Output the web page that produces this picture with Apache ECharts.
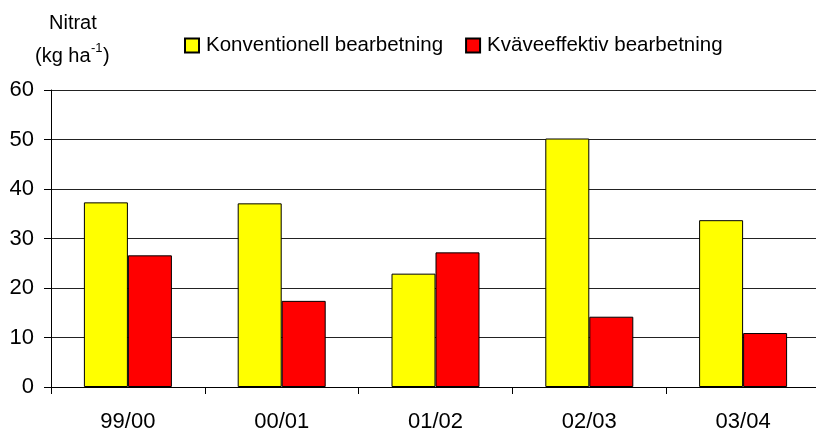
<!DOCTYPE html>
<html>
<head>
<meta charset="utf-8">
<script src="https://cdn.jsdelivr.net/npm/echarts@6/dist/echarts.min.js"></script>
<style>
  html, body { margin: 0; padding: 0; background: #fff; }
  #main { width: 816px; height: 430px; }
</style>
</head>
<body>
<div id="main"></div>
<script>
var categories = ['99/00', '00/01', '01/02', '02/03', '03/04'];
var konventionell = [37.3, 37.1, 22.9, 50.2, 33.7]; // gula staplar
var kvaveeffektiv = [26.6, 17.4, 27.2, 14.2, 10.9]; // röda staplar
var seriesNames = ['Konventionell bearbetning', 'Kväveeffektiv bearbetning'];
var yTicks = { min: 0, max: 60, interval: 10 };

var font = 'Liberation Sans, Arial, sans-serif';
var chart = echarts.init(document.getElementById('main'));

var option = {
    backgroundColor: '#fff',
    animation: false,
    textStyle: { fontFamily: font },
    graphic: [
        { type: 'text', left: 49, top: 13, style: { text: 'Nitrat', fontSize: 20, fontFamily: font, fill: '#000' } },
        { type: 'text', left: 35, top: 46, style: { text: '(kg ha', fontSize: 20, fontFamily: font, fill: '#000' } },
        { type: 'text', left: 91, top: 42, style: { text: '-1', fontSize: 13, fontFamily: font, fill: '#000' } },
        { type: 'text', left: 103, top: 46, style: { text: ')', fontSize: 20, fontFamily: font, fill: '#000' } }
    ],
    legend: {
        left: 184,
        top: 35,
        padding: 0,
        itemWidth: 14,
        itemHeight: 14,
        itemGap: 22,
        icon: 'rect',
        textStyle: { fontSize: 20.5, fontFamily: font, color: '#000', padding: [0, 0, 0, 2] },
        data: seriesNames
    },
    grid: { left: 51, right: -4, top: 90, bottom: 43, outerBoundsMode: 'none', containLabel: false },
    xAxis: {
        type: 'category',
        data: categories,
        axisLine: { lineStyle: { color: '#000', width: 1 } },
        axisTick: { show: true, length: 7, lineStyle: { color: '#000' } },
        axisLabel: { fontSize: 22, fontFamily: font, color: '#000', margin: 24 }
    },
    yAxis: {
        type: 'value',
        min: yTicks.min,
        max: yTicks.max,
        interval: yTicks.interval,
        axisLine: { show: true, lineStyle: { color: '#000', width: 1 } },
        axisTick: { show: true, length: 7, lineStyle: { color: '#000' } },
        axisLabel: { fontSize: 22, fontFamily: font, color: '#000', margin: 17 },
        splitLine: { show: true, lineStyle: { color: '#222', width: 1 } }
    },
    series: [{
        name: seriesNames[0],
        type: 'bar',
        data: konventionell,
        barWidth: 44,
        barGap: '0%',
        itemStyle: { color: '#ffff00', borderColor: '#000', borderWidth: 1 }
    }, {
        name: seriesNames[1],
        type: 'bar',
        data: kvaveeffektiv,
        barWidth: 44,
        barGap: '0%',
        itemStyle: { color: '#ff0000', borderColor: '#000', borderWidth: 1 }
    }]
};

chart.setOption(option);
</script>
</body>
</html>
